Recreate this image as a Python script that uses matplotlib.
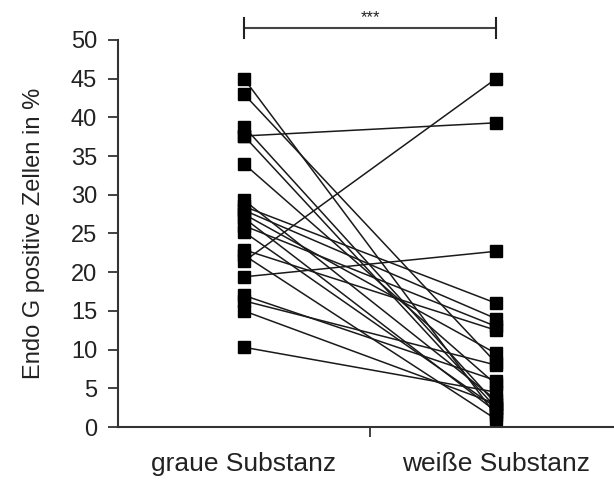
import matplotlib
matplotlib.use('Agg')
import matplotlib.pyplot as plt

# Kategorien und gepaarte Messwerte (Endo G positive Zellen in %)
categories = ['graue Substanz', 'weiße Substanz']
graue = [45.0, 43.0, 38.8, 37.6, 37.6, 34.0, 29.3, 28.5, 28.0, 27.5, 27.0,
         26.0, 25.2, 22.9, 22.2, 21.4, 19.4, 17.0, 16.3, 15.0, 10.3]
weisse = [1.5, 8.3, 3.0, 39.3, 2.5, 5.5, 3.5, 16.0, 14.0, 9.5, 2.0,
          13.0, 2.5, 12.5, 1.0, 45.0, 22.7, 6.0, 8.0, 3.0, 4.5]
y_ticks = [0, 5, 10, 15, 20, 25, 30, 35, 40, 45, 50]
signif = '***'

plt.rcParams['font.family'] = ['Liberation Sans', 'DejaVu Sans']
plt.rcParams['text.color'] = '#222222'

fig = plt.figure(figsize=(6.14, 4.8), dpi=100)
ax = fig.add_axes([118 / 614, 53 / 480, 504 / 614, 387 / 480])

x_pos = [0.5, 1.5]
for g, w in zip(graue, weisse):
    ax.plot(x_pos, [g, w], color='#1a1a1a', lw=1.1, zorder=2)
ax.plot([x_pos[0]] * len(graue), graue, 's', color='black', ms=8, zorder=3)
ax.plot([x_pos[1]] * len(weisse), weisse, 's', color='black', ms=8, zorder=3)

ax.set_xlim(0, 2)
ax.set_ylim(0, 50)
ax.set_yticks(y_ticks)
ax.tick_params(axis='y', direction='out', length=7, width=1.3, labelsize=17, pad=8,
               color='#333333', labelcolor='#222222')
ax.set_ylabel('Endo G positive Zellen in %', fontsize=17, color='#222222')
ax.yaxis.set_label_coords(-0.145, 0.5)

# Haupttick zwischen den Kategorien, Beschriftung über Minor-Ticks
ax.set_xticks([1])
ax.set_xticklabels([''])
ax.tick_params(axis='x', which='major', direction='out', length=7, width=1.3, color='#333333')
ax.set_xticks(x_pos, minor=True)
ax.set_xticklabels(categories, minor=True)
ax.tick_params(axis='x', which='minor', length=0, labelsize=19, pad=18, labelcolor='#222222')

for side in ['top', 'right']:
    ax.spines[side].set_visible(False)
for side in ['left', 'bottom']:
    ax.spines[side].set_linewidth(1.5)
    ax.spines[side].set_color('#333333')

# Signifikanzklammer
ax.plot(x_pos, [51.6, 51.6], color='#444444', lw=1.5, clip_on=False)
for xp in x_pos:
    ax.plot([xp, xp], [50.3, 52.8], color='#222222', lw=1.5, clip_on=False)
ax.text(1.0, 51.9, signif, ha='center', va='bottom', fontsize=12)

fig.savefig('out.png', dpi=100)
